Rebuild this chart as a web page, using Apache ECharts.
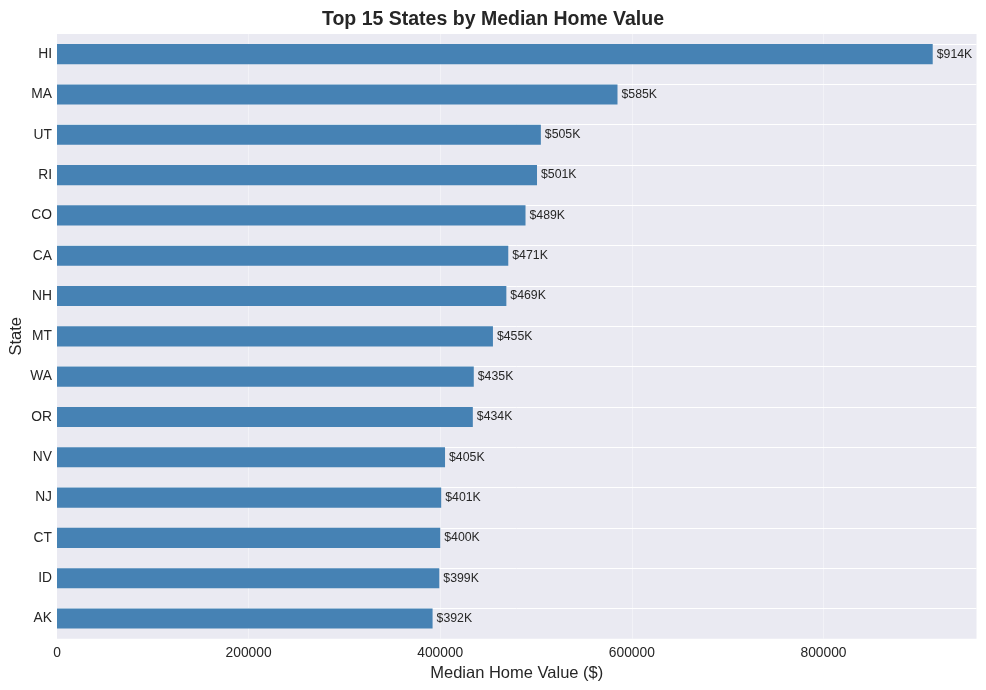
<!DOCTYPE html>
<html>
<head>
<meta charset="utf-8">
<script src="https://cdn.jsdelivr.net/npm/echarts@6/dist/echarts.min.js"></script>
<style>
html,body{margin:0;padding:0;background:#fff;}
#chart{width:986px;height:690px;}
</style>
</head>
<body>
<div id="chart"></div>
<script>
const states = ['HI','MA','UT','RI','CO','CA','NH','MT','WA','OR','NV','NJ','CT','ID','AK'];
const medianValues = [914000,585000,505000,501000,489000,471000,469000,455000,435000,434000,405000,401000,400000,399000,392000];
const xTicks = [0,200000,400000,600000,800000];
const xMax = 959700;

const FONT = '"Liberation Sans", Arial, sans-serif';
const TXT = '#262626';

const chart = echarts.init(document.getElementById('chart'), null, {renderer:'canvas'});
chart.setOption({
  animation:false,
  backgroundColor:'#ffffff',
  title:{
    text:'Top 15 States by Median Home Value',
    left:'center', top:5,
    textStyle:{fontFamily:FONT,fontSize:19.5,fontWeight:'bold',color:TXT}
  },
  grid:{left:57,right:9.5,top:34,bottom:51.3,show:true,backgroundColor:'#EAEAF2',borderWidth:0,
        outerBoundsMode:'none',containLabel:false},
  xAxis:{
    type:'value',min:0,max:xMax,interval:200000,
    name:'Median Home Value ($)',nameLocation:'middle',nameGap:26,
    nameTextStyle:{fontFamily:FONT,fontSize:16.5,color:TXT},
    axisLine:{show:false},axisTick:{show:false},
    splitLine:{show:false},
    axisLabel:{fontFamily:FONT,fontSize:13.8,color:TXT,margin:7,showMaxLabel:false,
      formatter:v=> xTicks.indexOf(v)>=0 ? String(v) : ''}
  },
  yAxis:{
    type:'category',data:states,inverse:true,
    name:'State',nameLocation:'middle',nameGap:32,nameRotate:90,nameMoveOverlap:false,
    nameTextStyle:{fontFamily:FONT,fontSize:16.5,color:TXT},
    axisLine:{show:false},axisTick:{show:false},splitLine:{show:false},
    axisLabel:{fontFamily:FONT,fontSize:13.8,color:TXT,margin:5}
  },
  series:[
    {
      type:'bar',name:'grid',data:[],z:1,silent:true,
      markLine:{
        z:1,zlevel:0,
        silent:true,symbol:['none','none'],label:{show:false},animation:false,
        data:[
          ...states.map(s=>({yAxis:s,lineStyle:{color:'#ffffff',width:1,type:'solid',opacity:1}})),
          ...xTicks.filter(t=>t>0).map(t=>({xAxis:t,lineStyle:{color:'#ffffff',width:1,type:'solid',opacity:0.4}}))
        ]
      }
    },
    {
      type:'bar',name:'Median Home Value',data:medianValues,z:3,
      barWidth:'50%',
      itemStyle:{color:'#4682B4'},
      label:{show:true,position:'right',distance:4,
        fontFamily:FONT,fontSize:12.3,color:TXT,
        formatter:p=>'$'+Math.round(p.value/1000)+'K'}
    }
  ]
});
</script>
</body>
</html>
